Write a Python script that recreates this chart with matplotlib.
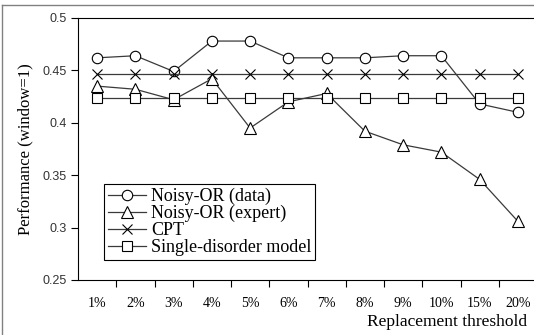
import numpy as np
import matplotlib
matplotlib.use('Agg')
import matplotlib.pyplot as plt
from matplotlib.lines import Line2D

# data
thresholds = ['1%', '2%', '3%', '4%', '5%', '6%', '7%', '8%', '9%', '10%', '15%', '20%']
noisy_or_data = [0.462, 0.464, 0.449, 0.478, 0.478, 0.462, 0.462, 0.462, 0.464, 0.464, 0.418, 0.410]
noisy_or_expert = [0.435, 0.432, 0.422, 0.442, 0.395, 0.420, 0.428, 0.392, 0.379, 0.372, 0.346, 0.306]
cpt = [0.447] * 12
single_disorder = [0.424] * 12
series_labels = ['Noisy-OR (data)', 'Noisy-OR (expert)', 'CPT', 'Single-disorder model']

SERIF = ['Liberation Serif', 'DejaVu Serif']
SANS = ['Liberation Sans', 'DejaVu Sans']

fig = plt.figure(figsize=(5.34, 3.35), dpi=100)
ax = fig.add_axes([78 / 534, 55 / 335, 459 / 534, 262 / 335])

x = np.arange(len(thresholds))
line_kw = dict(color='#3a3a3a', lw=0.9, markerfacecolor='white',
               markeredgecolor='black', markeredgewidth=0.8, clip_on=False)
ax.plot(x, noisy_or_data, marker='o', markersize=7.5, label=series_labels[0], **line_kw)
ax.plot(x, noisy_or_expert, marker='^', markersize=8.5, label=series_labels[1], **line_kw)
ax.plot(x, cpt, marker='x', markersize=7, label=series_labels[2], **line_kw)
ax.plot(x, single_disorder, marker='s', markersize=7, label=series_labels[3], **line_kw)

ax.set_xlim(-0.5, len(thresholds) - 0.5)
ax.set_ylim(0.25, 0.5)
ax.set_yticks([0.25, 0.3, 0.35, 0.4, 0.45, 0.5])
ax.set_yticklabels(['0.25', '0.3', '0.35', '0.4', '0.45', '0.5'],
                   family=SANS, fontsize=9, color='#333333')
ax.tick_params(axis='y', direction='out', length=5, width=0.8, pad=3)

ax.set_xticks(x)
ax.set_xticklabels(thresholds, family=SERIF, fontsize=10)
ax.set_xticks(np.arange(len(thresholds)) + 0.5, minor=True)
ax.tick_params(axis='x', which='major', length=0, pad=12)
ax.tick_params(axis='x', which='minor', direction='out', length=5, width=0.8)

ax.spines['right'].set_visible(False)
for s in ['left', 'bottom', 'top']:
    ax.spines[s].set_linewidth(0.8)

ax.set_ylabel('Performance (window=1)', family=SERIF, fontsize=12, labelpad=7)
fig.text(527 / 534, 1 - 322 / 335, 'Replacement threshold', family=SERIF,
         fontsize=12.5, ha='right', va='center')

leg = ax.legend(loc='lower left', bbox_to_anchor=(0.057, 0.076), borderaxespad=0,
                prop={'family': SERIF, 'size': 13}, fancybox=False,
                edgecolor='black', framealpha=1, handlelength=2.1,
                handletextpad=0.3, labelspacing=0.0, borderpad=0.2)
leg.get_frame().set_linewidth(0.8)

# outer chart border (Excel frame)
fig.add_artist(Line2D([2 / 534, 1], [1 - 5 / 335] * 2, color='#808080', lw=1))
fig.add_artist(Line2D([2 / 534] * 2, [0, 1 - 5 / 335], color='#808080', lw=1))

fig.savefig('out.png', dpi=100)
